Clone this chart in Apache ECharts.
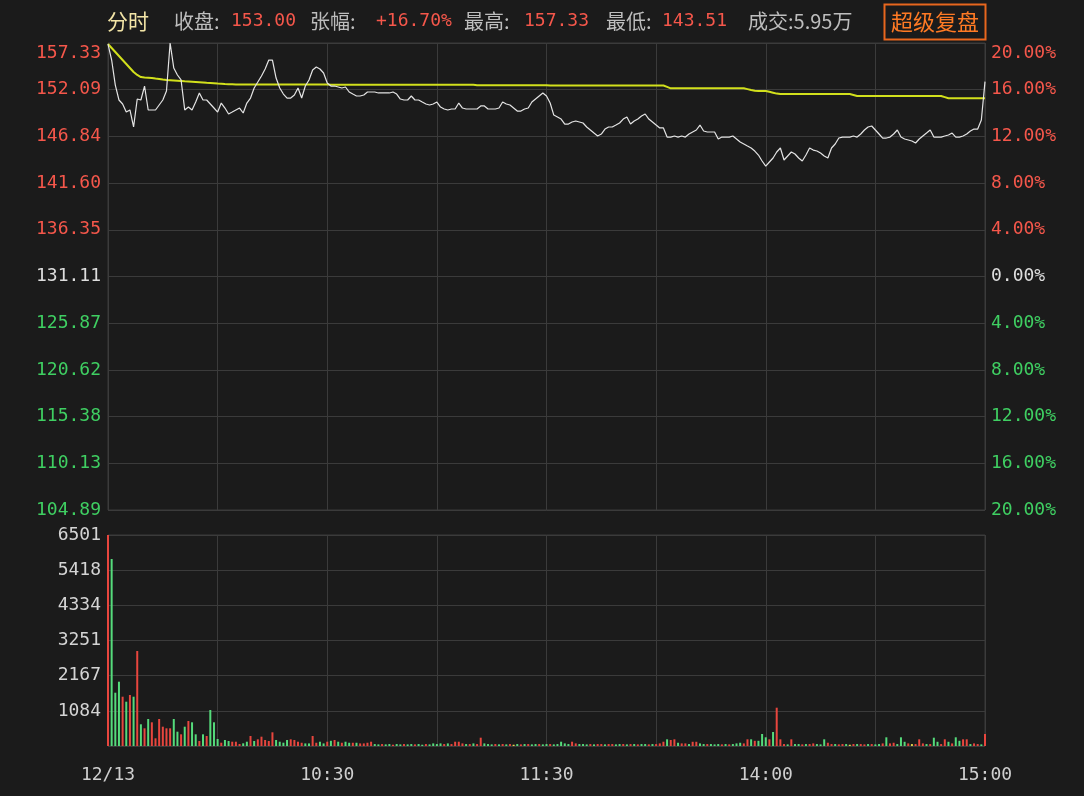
<!DOCTYPE html>
<html><head><meta charset="utf-8">
<script src="https://cdn.jsdelivr.net/npm/echarts/dist/echarts.min.js"></script>
<style>html,body{margin:0;padding:0;background:#1b1b1b;}#c{width:1084px;height:796px;}</style>
</head><body><div id="c"></div>
<script>
// ---------- data ----------
const prevClose = 131.11;
const priceTickLabels = ['104.89','110.13','115.38','120.62','125.87','131.11','136.35','141.60','146.84','152.09','157.33'];
const pctTickLabels = ['20.00%','16.00%','12.00%','8.00%','4.00%','0.00%','4.00%','8.00%','12.00%','16.00%','20.00%'];
const volTickLabels = ['','1084','2167','3251','4334','5418','6501'];
const volMax = 6501;
const xTickIndex = [0,60,120,180,240];
const xTickText = ['12/13','10:30','11:30','14:00','15:00'];
const headerLabels = ['收盘:','张幅:','最高:','最低:'];
const headerValues = ['153.00','+16.70%','157.33','143.51'];
const volumeText = '成交:5.95万';
const tabText = '分时';
const buttonText = '超级复盘';

const priceData = [
157.20,155.42,152.61,150.93,150.48,149.58,149.81,147.90,151.04,150.93,
152.50,149.81,149.81,149.81,150.37,150.93,151.94,157.33,154.52,153.74,
153.18,149.81,150.14,149.81,150.70,151.72,150.93,150.93,150.48,150.03,
149.58,150.59,150.03,149.36,149.58,149.81,150.03,149.47,150.59,151.15,
152.28,152.95,153.62,154.41,155.42,155.42,153.40,152.28,151.60,151.15,
151.15,151.49,152.28,151.15,152.50,153.18,154.30,154.63,154.41,153.96,
152.84,152.50,152.50,152.39,152.28,152.39,151.83,151.60,151.38,151.38,
151.49,151.83,151.83,151.83,151.72,151.72,151.72,151.72,151.83,151.60,
151.04,150.93,150.93,151.38,150.93,150.93,150.70,150.48,150.37,150.48,
150.70,150.14,149.92,149.81,149.92,149.92,150.59,150.03,149.92,149.92,
149.92,149.92,150.26,150.26,149.92,149.92,149.92,150.03,150.70,150.48,
150.37,150.03,149.69,149.69,149.92,150.03,150.70,151.04,151.38,151.72,
151.38,150.59,149.24,149.02,148.79,148.23,148.23,148.46,148.57,148.46,
148.35,147.90,147.56,147.22,146.89,147.11,147.67,147.90,147.90,148.12,
148.35,148.79,149.02,148.23,148.57,148.79,149.13,149.36,148.79,148.46,
148.12,147.79,147.79,146.77,146.77,146.89,146.77,146.89,146.77,147.11,
147.34,147.56,148.12,147.45,147.34,147.34,147.34,146.55,146.77,146.77,
146.77,146.89,146.55,146.21,145.99,145.76,145.54,145.20,144.75,144.08,
143.51,143.97,144.42,145.09,145.54,144.19,144.64,145.09,144.87,144.42,
144.08,144.75,145.54,145.31,145.20,144.98,144.64,144.42,145.54,145.99,
146.66,146.77,146.77,146.77,146.89,146.77,147.11,147.56,147.90,148.01,
147.56,147.11,146.66,146.66,146.77,147.11,147.56,146.77,146.55,146.44,
146.33,146.10,146.55,146.89,147.22,147.56,146.77,146.77,146.77,146.89,
147.00,147.22,146.77,146.77,146.89,147.11,147.45,147.67,147.67,148.68,
153.00];

const avgData = [
157.22,156.77,156.32,155.87,155.42,154.97,154.52,154.07,153.74,153.51,
153.46,153.43,153.40,153.34,153.29,153.23,153.18,153.15,153.12,153.09,
153.06,153.03,153.01,152.98,152.95,152.92,152.89,152.86,152.84,152.81,
152.78,152.76,152.73,152.71,152.69,152.67,152.67,152.67,152.67,152.67,
152.67,152.67,152.67,152.67,152.67,152.67,152.67,152.67,152.67,152.67,
152.67,152.67,152.67,152.67,152.67,152.67,152.67,152.67,152.67,152.67,
152.67,152.64,152.64,152.64,152.64,152.64,152.64,152.64,152.64,152.64,
152.64,152.64,152.64,152.64,152.64,152.64,152.64,152.64,152.64,152.64,
152.64,152.64,152.64,152.64,152.64,152.64,152.64,152.64,152.64,152.64,
152.64,152.64,152.64,152.64,152.64,152.64,152.64,152.64,152.64,152.64,
152.64,152.60,152.60,152.60,152.60,152.60,152.60,152.60,152.60,152.60,
152.60,152.60,152.60,152.60,152.60,152.60,152.60,152.60,152.60,152.60,
152.60,152.56,152.56,152.56,152.56,152.56,152.56,152.56,152.56,152.56,
152.56,152.56,152.56,152.56,152.56,152.56,152.56,152.56,152.56,152.56,
152.56,152.56,152.56,152.56,152.56,152.56,152.56,152.56,152.56,152.56,
152.56,152.56,152.56,152.40,152.24,152.24,152.24,152.24,152.24,152.24,
152.24,152.24,152.24,152.24,152.24,152.24,152.24,152.24,152.24,152.24,
152.24,152.24,152.24,152.24,152.24,152.15,152.05,151.98,151.94,151.94,
151.94,151.85,151.75,151.65,151.60,151.60,151.60,151.60,151.60,151.60,
151.60,151.60,151.60,151.60,151.60,151.60,151.60,151.60,151.60,151.60,
151.60,151.60,151.60,151.60,151.50,151.38,151.38,151.38,151.38,151.38,
151.38,151.38,151.38,151.38,151.38,151.38,151.38,151.38,151.38,151.38,
151.38,151.38,151.38,151.38,151.38,151.38,151.38,151.38,151.38,151.25,
151.12,151.12,151.12,151.12,151.12,151.12,151.12,151.12,151.12,151.12,
151.12];

const volData = [
6501,5761,1642,1981,1519,1365,1571,1519,2927,669,
545,832,730,237,832,595,545,545,832,441,
360,595,770,730,360,154,360,308,1109,730,
216,102,185,154,132,132,62,83,132,308,
154,206,287,185,154,422,185,132,102,185,
206,185,132,100,80,80,308,100,132,80,
132,160,185,132,100,132,100,100,100,80,
80,100,132,60,50,60,50,60,40,60,
50,60,50,60,50,60,40,60,50,80,
60,80,60,80,60,132,132,80,60,60,
80,60,256,80,60,50,60,50,60,50,
60,40,60,50,60,60,50,60,60,50,
60,60,50,60,132,80,60,132,80,60,
60,50,60,50,60,60,50,60,60,50,
60,60,50,60,60,50,60,60,50,60,
60,80,132,206,185,206,100,80,80,60,
130,130,80,60,60,60,50,60,50,60,
50,60,80,100,80,206,206,160,160,370,
268,206,431,1180,206,60,50,206,60,60,
50,60,60,80,60,50,206,100,60,60,
50,60,60,40,60,60,60,50,60,60,
50,60,80,268,80,100,60,268,130,80,
60,60,206,80,60,60,256,130,60,206,
130,80,268,160,206,206,60,80,60,50,
370];

// r = up (red), g = down (green), y = flat (yellow)
const volDir = ('rgggrgrgrg' + 'rgrrrrrrgg' + 'rgrggrgrgg' + 'grggrrrggr' + 'grrrrrgggg' +
  'rrrrggrrgg' + 'rgrgrggrgr' + 'rrrggrggrg' + 'grggrggrgg' + 'ggrgrrrrgr' +
  'grrgggrgrg' + 'rygrgrggrg' + 'grgggggrrg' + 'ggrgrrgrrg' + 'grgrgrggrg' +
  'rrrgrrgrrg' + 'rrggrgggrg' + 'rgggrrgrgg' + 'grgrrrgrgg' + 'rgrrgggrrg' +
  'rrgyrgrrgr' + 'ggrgrrgggr' + 'yrrrgrggrr' + 'grggrrgrrg' + 'r').split('');

// minute categories 09:30..11:30, 13:01..15:00
const timeCats = [];
for (let m = 9*60+30; m <= 11*60+30; m++) timeCats.push(String(Math.floor(m/60)).padStart(2,'0')+':'+String(m%60).padStart(2,'0'));
for (let m = 13*60+1; m <= 15*60; m++) timeCats.push(String(Math.floor(m/60)).padStart(2,'0')+':'+String(m%60).padStart(2,'0'));

// ---------- style ----------
const BG = '#1b1b1b';
const GRIDC = '#3b3b3b';
const RED = '#f5574b';
const GREEN = '#3fcf62';
const WHITE = '#dedede';
const GRAY = '#bdbdbd';
const MONO = 'DejaVu Sans Mono';
const CJK = 'Noto Sans CJK SC';
const BAR_COLORS = { r: '#e8463e', g: '#55db7b', y: '#e3d24a' };

const labelRich = {
  r: { color: RED, fontFamily: MONO, fontSize: 18 },
  rt: { color: RED, fontFamily: MONO, fontSize: 18, padding: [20, 0, 0, 0] },
  g: { color: GREEN, fontFamily: MONO, fontSize: 18 },
  w: { color: WHITE, fontFamily: MONO, fontSize: 18 }
};
function tickStyle(idx) {
  if (idx === 10) return 'rt';
  if (idx > 5) return 'r';
  if (idx < 5) return 'g';
  return 'w';
}

const chart = echarts.init(document.getElementById('c'), null, { renderer: 'canvas' });

// header graphics
const header = [];
header.push({ type: 'text', x: 107, y: 21, style: { text: tabText, fill: '#f2e4a6', fontFamily: CJK, fontSize: 21, verticalAlign: 'middle' } });
const labelX = [174, 310, 464, 606];
const valueX = [231, 376, 524, 662];
for (let k = 0; k < headerLabels.length; k++) {
  header.push({ type: 'text', x: labelX[k], y: 21, style: { text: headerLabels[k], fill: GRAY, fontFamily: CJK, fontSize: 20, verticalAlign: 'middle' } });
  header.push({ type: 'text', x: valueX[k], y: 21, style: { text: headerValues[k], fill: RED, fontFamily: MONO, fontSize: 18, verticalAlign: 'middle' } });
}
header.push({ type: 'text', x: 748, y: 21, style: { text: volumeText, fill: GRAY, fontFamily: CJK, fontSize: 20, verticalAlign: 'middle' } });
header.push({ type: 'rect', shape: { x: 884.5, y: 4.5, width: 101, height: 35 }, style: { fill: BG, stroke: '#e8671e', lineWidth: 2 } });
header.push({ type: 'text', x: 935, y: 22, style: { text: buttonText, fill: '#ff7a24', fontFamily: CJK, fontSize: 22, align: 'center', verticalAlign: 'middle' } });

const option = {
  backgroundColor: BG,
  animation: false,
  graphic: header,
  grid: [
    { left: 108, right: 99, top: 43, height: 467, show: true, borderColor: GRIDC, borderWidth: 1, containLabel: false, outerBoundsMode: 'none' },
    { left: 108, right: 99, top: 535, height: 211, show: true, borderColor: GRIDC, borderWidth: 1, containLabel: false, outerBoundsMode: 'none' }
  ],
  xAxis: [
    { type: 'category', gridIndex: 0, data: timeCats, boundaryGap: false,
      axisLine: { show: false }, axisTick: { show: false }, axisLabel: { show: false },
      splitLine: { show: true, interval: function (i) { return i % 30 === 0; }, lineStyle: { color: GRIDC, width: 1 } } },
    { type: 'category', gridIndex: 1, data: timeCats, boundaryGap: false,
      axisLine: { show: false }, axisTick: { show: false },
      axisLabel: { show: true, margin: 20, color: '#cfcfcf', fontFamily: MONO, fontSize: 18,
        interval: function (i) { return xTickIndex.indexOf(i) >= 0; },
        formatter: function (v, i) { const k = xTickIndex.indexOf(i); return k >= 0 ? xTickText[k] : ''; } },
      splitLine: { show: true, interval: function (i) { return i % 30 === 0; }, lineStyle: { color: GRIDC, width: 1 } } }
  ],
  yAxis: [
    { type: 'value', gridIndex: 0, position: 'left', min: -20, max: 20, interval: 4,
      axisLine: { show: false }, axisTick: { show: false },
      axisLabel: { margin: 7, formatter: function (v) { const idx = Math.round((v + 20) / 4); return '{' + tickStyle(idx) + '|' + priceTickLabels[idx] + '}'; }, rich: labelRich },
      splitLine: { show: true, lineStyle: { color: GRIDC, width: 1 } } },
    { type: 'value', gridIndex: 0, position: 'right', min: -20, max: 20, interval: 4,
      axisLine: { show: false }, axisTick: { show: false },
      axisLabel: { margin: 6, formatter: function (v) { const idx = Math.round((v + 20) / 4); return '{' + tickStyle(idx) + '|' + pctTickLabels[idx] + '}'; }, rich: labelRich },
      splitLine: { show: false } },
    { type: 'value', gridIndex: 0, show: false, min: prevClose * 0.8, max: prevClose * 1.2,
      splitLine: { show: false } },
    { type: 'value', gridIndex: 1, position: 'left', min: 0, max: volMax, interval: volMax / 6,
      axisLine: { show: false }, axisTick: { show: false },
      axisLabel: { margin: 7, color: '#d4d4d4', fontFamily: MONO, fontSize: 18,
        formatter: function (v) { return volTickLabels[Math.round(v / (volMax / 6))] || ''; } },
      splitLine: { show: true, lineStyle: { color: GRIDC, width: 1 } } }
  ],
  series: [
    { name: 'avg', type: 'line', xAxisIndex: 0, yAxisIndex: 2, data: avgData, showSymbol: false, symbol: 'none',
      lineStyle: { color: '#d2e01c', width: 2 }, z: 3 },
    { name: 'price', type: 'line', xAxisIndex: 0, yAxisIndex: 2, data: priceData, showSymbol: false, symbol: 'none',
      lineStyle: { color: '#e4e4e4', width: 1.2 }, z: 4 },
    { name: 'volume', type: 'bar', xAxisIndex: 1, yAxisIndex: 3, barWidth: 2, clip: false,
      data: volData.map(function (v, i) { return { value: v, itemStyle: { color: BAR_COLORS[volDir[i]] } }; }) }
  ]
};
chart.setOption(option);
</script>
</body></html>
